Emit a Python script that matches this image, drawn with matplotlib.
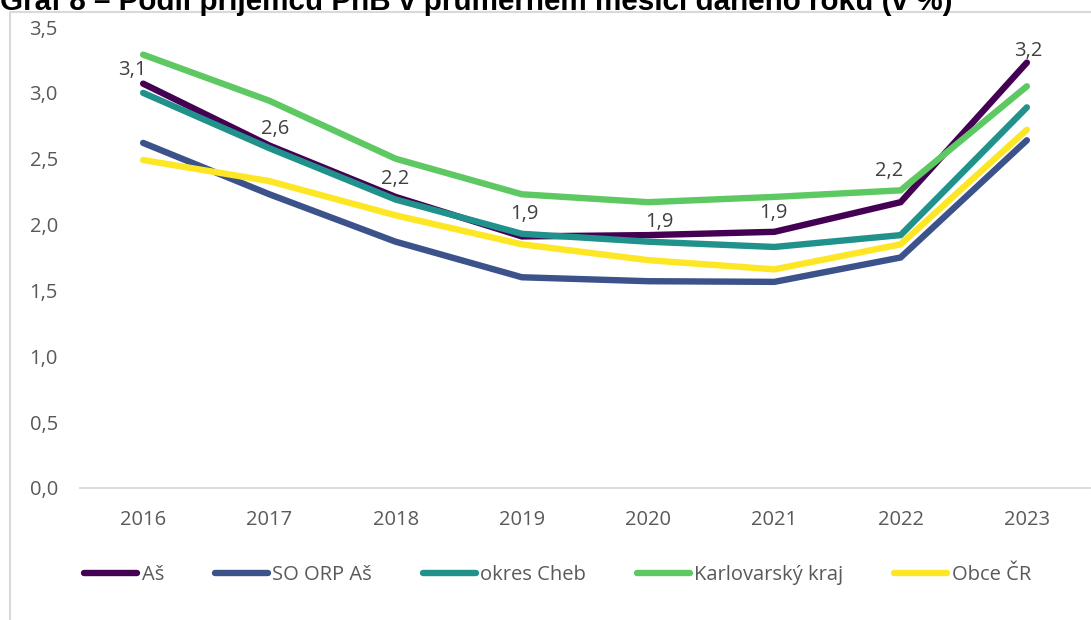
import matplotlib
matplotlib.use("Agg")
import matplotlib.pyplot as plt
from matplotlib.patches import Rectangle

years = ["2016", "2017", "2018", "2019", "2020", "2021", "2022", "2023"]
series_names = ["Aš", "SO ORP Aš", "okres Cheb", "Karlovarský kraj", "Obce ČR"]
as_vals = [3.07, 2.60, 2.21, 1.91, 1.92, 1.945, 2.17, 3.23]
so_orp_vals = [2.62, 2.23, 1.87, 1.60, 1.57, 1.565, 1.75, 2.64]
cheb_vals = [3.00, 2.58, 2.19, 1.93, 1.87, 1.83, 1.92, 2.89]
kraj_vals = [3.29, 2.94, 2.50, 2.23, 2.17, 2.21, 2.26, 3.05]
cr_vals = [2.49, 2.33, 2.07, 1.85, 1.73, 1.66, 1.85, 2.72]
as_labels = ["3,1", "2,6", "2,2", "1,9", "1,9", "1,9", "2,2", "3,2"]
y_ticks = [0.0, 0.5, 1.0, 1.5, 2.0, 2.5, 3.0, 3.5]
y_tick_labels = ["0,0", "0,5", "1,0", "1,5", "2,0", "2,5", "3,0", "3,5"]
colors = ["#440154", "#3b528b", "#21918c", "#5ec962", "#fde725"]
title = "Graf 8 – Podíl příjemců PnB v průměrném měsíci daného roku (v %)"

# label offsets in pixels (dx, dy) relative to the data point (style only)
label_offsets_px = [(-11, 14), (6, 17), (0, 18), (2, 22), (11, 13), (-1, 19), (-11, 31), (1, 12)]

plt.rcParams['font.family'] = ['Open Sans', 'DejaVu Sans']

W, H = 1091, 620
fig = plt.figure(figsize=(W / 100, H / 100), dpi=100)
ax = fig.add_axes([80 / W, 1 - 488 / H, (1090 - 80) / W, (488 - 27) / H])

# chart border
fig.patches.append(Rectangle((10 / W, -0.1), 1.2, 1 - 11.5 / H + 0.1,
                             transform=fig.transFigure, fill=False,
                             edgecolor="#d9d9d9", linewidth=1.5))

x = list(range(len(years)))
all_series = [as_vals, so_orp_vals, cheb_vals, kraj_vals, cr_vals]
for i, (vals, name, c) in enumerate(zip(all_series, series_names, colors)):
    ax.plot(x, vals, color=c, linewidth=4.6, label=name, zorder=3 + i,
            solid_capstyle='round', solid_joinstyle='miter')

for xi, v, lab, (dx, dy) in zip(x, as_vals, as_labels, label_offsets_px):
    ax.annotate(lab, (xi, v), xytext=(dx * 0.72, dy * 0.72), textcoords='offset points',
                ha='center', va='center', fontsize=14.5, color='#404040', zorder=10)

ax.set_xlim(-0.5, 7.5)
ax.set_ylim(0, 3.5)
ax.set_xticks(x)
ax.set_xticklabels(years)
ax.set_yticks(y_ticks)
ax.set_yticklabels(y_tick_labels)
ax.tick_params(axis='both', length=0, labelsize=14.5, labelcolor='#595959')
ax.tick_params(axis='x', pad=16)
ax.tick_params(axis='y', pad=16)
for s in ['top', 'right', 'left']:
    ax.spines[s].set_visible(False)
ax.spines['bottom'].set_color('#d9d9d9')
ax.spines['bottom'].set_linewidth(1.3)

leg = fig.legend(loc='center', bbox_to_anchor=(0.511, 1 - 575 / H), ncol=5,
                 frameon=False, fontsize=14.5, handlelength=2.65, handletextpad=0.22,
                 columnspacing=2.5, labelcolor='#595959')
for h in leg.legend_handles:
    h.set_solid_capstyle('round')

fig.text(0 / W, 1 - 9.5 / H, title, fontsize=21.3, fontweight='bold',
         family=['Liberation Sans', 'DejaVu Sans'], va='baseline', ha='left',
         color='#000000')

fig.savefig("out.png", dpi=100)
